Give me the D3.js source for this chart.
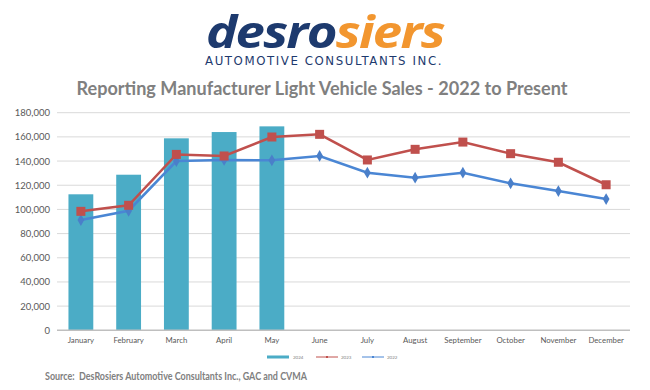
<!DOCTYPE html>
<html><head><meta charset="utf-8">
<script src="https://cdn.jsdelivr.net/npm/d3@7"></script>
<style>body{margin:0;background:#fff;} svg{display:block;}</style>
</head><body>
<script>
const months = ["January","February","March","April","May","June","July","August","September","October","November","December"];
const sales2024 = [112500,128700,158800,164000,168700];
const sales2023 = [98400,103400,145500,144200,159900,162100,140900,149700,155700,146100,139000,120400];
const sales2022 = [91200,98900,140000,140900,140600,144200,130400,126200,130400,121600,115200,108600];
const yTicks = [0,20000,40000,60000,80000,100000,120000,140000,160000,180000];
const legendLabels = ["2024","2023","2022"];

const W = 650, H = 390;
const svg = d3.select("body").append("svg").attr("width", W).attr("height", H);
const font = "Lato, 'Open Sans', sans-serif";

// Logo
const logo = svg.append("text").attr("x", 325).attr("y", 48).attr("text-anchor","middle")
  .attr("font-family","'Open Sans', Lato, sans-serif").attr("font-weight","bold")
  .attr("font-style","italic").attr("font-size", 44.5).attr("letter-spacing", -1.5)
  .attr("textLength", 238).attr("lengthAdjust","spacingAndGlyphs");
logo.append("tspan").attr("fill","#1d3a6e").text("desro");
logo.append("tspan").attr("fill","#f2962f").text("siers");
svg.append("text").attr("x", 324).attr("y", 64.5).attr("text-anchor","middle")
  .attr("font-family", "'DejaVu Sans', sans-serif").attr("font-size", 12).attr("letter-spacing", 1.6)
  .attr("fill","#1d3a6e").attr("textLength", 238).attr("lengthAdjust","spacingAndGlyphs")
  .text("AUTOMOTIVE CONSULTANTS INC.");

// Title
svg.append("text").attr("x", 322).attr("y", 95).attr("text-anchor","middle")
  .attr("font-family", font).attr("font-weight","bold").attr("font-size", 18)
  .attr("fill","#808080").attr("textLength", 491).attr("lengthAdjust","spacingAndGlyphs")
  .text("Reporting Manufacturer Light Vehicle Sales - 2022 to Present");

const pLeft = 57, pRight = 630, pTop = 112.7, pBottom = 330.3;
const x = d3.scaleBand().domain(months).range([pLeft, pRight]).paddingInner(0.48).paddingOuter(0.24);
const y = d3.scaleLinear().domain([0,180000]).range([pBottom, pTop]);

// gridlines
svg.append("g").selectAll("line").data(yTicks.slice(1)).join("line")
  .attr("x1", pLeft).attr("x2", pRight).attr("y1", d=>y(d)).attr("y2", d=>y(d))
  .attr("stroke","#d9d9d9").attr("stroke-width",1);

// y axis
const yAxis = d3.axisLeft(y).tickValues(yTicks).tickSize(0).tickPadding(7)
  .tickFormat(d3.format(","));
const gy = svg.append("g").attr("transform",`translate(${pLeft},0)`).call(yAxis);
gy.select(".domain").remove();
gy.selectAll("text").attr("font-family", font).attr("font-size", 9.5).attr("fill","#595959");

// bars
svg.append("g").selectAll("rect").data(sales2024).join("rect")
  .attr("x",(d,i)=>x(months[i])).attr("width", x.bandwidth())
  .attr("y", d=>y(d)).attr("height", d=>y(0)-y(d)).attr("fill","#4bacc6");

// baseline
svg.append("line").attr("x1", pLeft).attr("x2", pRight).attr("y1", y(0)).attr("y2", y(0))
  .attr("stroke","#bfbfbf").attr("stroke-width",1.5);

// x axis labels
const xAxis = d3.axisBottom(x).tickSize(0).tickPadding(7);
const gx = svg.append("g").attr("transform",`translate(0,${y(0)})`).call(xAxis);
gx.select(".domain").remove();
gx.selectAll("text").attr("font-family", font).attr("font-size", 7.8).attr("fill","#595959");

const cx = i => x(months[i]) + x.bandwidth()/2;
const line = d3.line().x((d,i)=>cx(i)).y(d=>y(d));

// 2022 blue
svg.append("path").datum(sales2022).attr("d", line).attr("fill","none")
  .attr("stroke","#4a86d4").attr("stroke-width",2.5);
svg.append("g").selectAll("path").data(sales2022).join("path")
  .attr("d", d3.symbol(d3.symbolDiamond, 40))
  .attr("transform",(d,i)=>`translate(${cx(i)},${y(d)})`).attr("fill","#4a7fc9");

// 2023 red
svg.append("path").datum(sales2023).attr("d", line).attr("fill","none")
  .attr("stroke","#c0504d").attr("stroke-width",2.5);
svg.append("g").selectAll("rect").data(sales2023).join("rect")
  .attr("x",(d,i)=>cx(i)-4.5).attr("y",d=>y(d)-4.5).attr("width",9).attr("height",9)
  .attr("fill","#c0504d");

// legend
const lg = svg.append("g").attr("font-family", font).attr("font-size", 4.5).attr("fill","#7f7f7f");
lg.append("rect").attr("x",267).attr("y",355.5).attr("width",22).attr("height",3).attr("fill","#4bacc6");
lg.append("text").attr("x",293).attr("y",358.5).text(legendLabels[0]);
lg.append("line").attr("x1",316).attr("x2",338).attr("y1",357).attr("y2",357).attr("stroke","#c0504d").attr("stroke-width",1);
lg.append("rect").attr("x",326).attr("y",356).attr("width",2).attr("height",2).attr("fill","#c0504d");
lg.append("text").attr("x",341).attr("y",358.5).text(legendLabels[1]);
lg.append("line").attr("x1",362).attr("x2",384).attr("y1",357).attr("y2",357).attr("stroke","#4a86d4").attr("stroke-width",1);
lg.append("rect").attr("x",372).attr("y",356).attr("width",2).attr("height",2).attr("fill","#4a86d4");
lg.append("text").attr("x",387).attr("y",358.5).text(legendLabels[2]);

// source
svg.append("text").attr("x", 45).attr("y", 380).attr("font-family", font).attr("font-weight","bold")
  .attr("font-size", 12).attr("fill","#808080").attr("xml:space","preserve")
  .attr("textLength", 262).attr("lengthAdjust","spacingAndGlyphs")
  .text("Source:  DesRosiers Automotive Consultants Inc., GAC and CVMA");
</script>
</body></html>
